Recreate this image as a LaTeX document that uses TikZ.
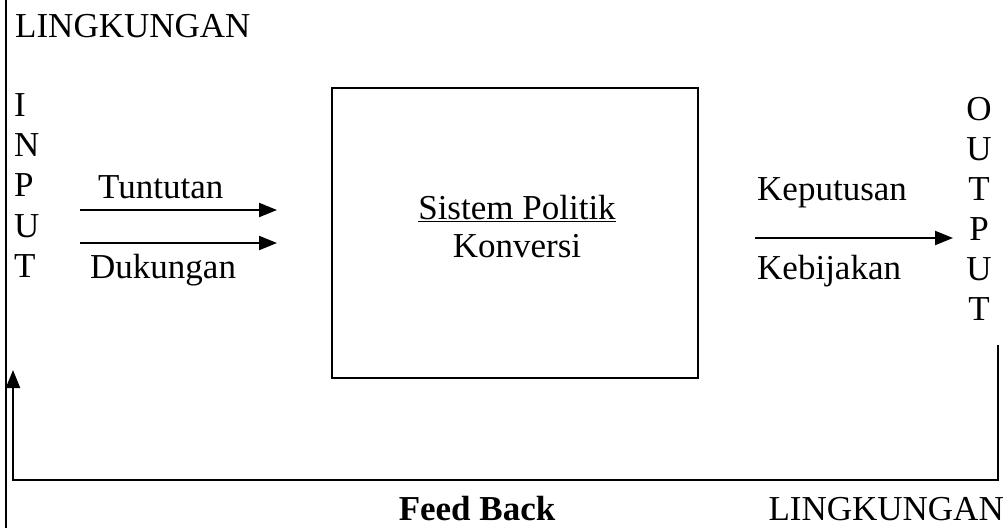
\documentclass[tikz,border=0pt]{standalone}
\usepackage{fontspec}
\setmainfont{Liberation Serif}
\usetikzlibrary{arrows.meta}
\begin{document}
\begin{tikzpicture}[x=1pt,y=-1pt,
  txt/.style={inner sep=0pt,font=\fontsize{35}{40}\selectfont},
  bold/.style={txt,font=\fontsize{35}{40}\selectfont\bfseries},
  ln/.style={line width=2.2pt},
  arr/.style={ln,-{Triangle[length=18pt,width=14pt]}}]
\useasboundingbox (0,0) rectangle (1008,528);
% frame line on the left
\coordinate (frT) at (6,0);
\coordinate (frB) at (6,528);
\draw[ln] (frT) -- (frB);
% environment labels
\node[txt,anchor=base west] (env1) at (15,37) {LINGKUNGAN};
\node[txt,anchor=base east] (env2) at (1004,520) {LINGKUNGAN};
% INPUT column
\node[txt,anchor=base west] (i1) at (14,116) {I};
\node[txt,anchor=base west] (i2) at (14,156) {N};
\node[txt,anchor=base west] (i3) at (14,196) {P};
\node[txt,anchor=base west] (i4) at (14,237) {U};
\node[txt,anchor=base west] (i5) at (14,277) {T};
% inputs
\node[txt,anchor=base west] (tunt) at (98,198) {Tuntutan};
\node[txt,anchor=base west] (duk) at (90,278) {Dukungan};
\coordinate (a1s) at (80,210);
\coordinate (a1e) at (277,210);
\coordinate (a2s) at (80,243);
\coordinate (a2e) at (277,243);
\draw[arr] (a1s) -- (a1e);
\draw[arr] (a2s) -- (a2e);
% system box
\node[draw,ln,minimum width=366pt,minimum height=290pt,inner sep=0pt] (sys) at (515,233) {};
\node[txt,anchor=base] (sp) at (517,219) {\underline{Sistem Politik}};
\node[txt,anchor=base] (konv) at (517,257) {Konversi};
% outputs
\node[txt,anchor=base west] (kep) at (757,200) {Keputusan};
\node[txt,anchor=base west] (keb) at (757,279) {Kebijakan};
\coordinate (a3s) at (755,238);
\coordinate (a3e) at (953,238);
\draw[arr] (a3s) -- (a3e);
% OUTPUT column
\node[txt,anchor=base] (o1) at (979,120) {O};
\node[txt,anchor=base] (o2) at (979,160) {U};
\node[txt,anchor=base] (o3) at (979,200) {T};
\node[txt,anchor=base] (o4) at (979,240) {P};
\node[txt,anchor=base] (o5) at (979,280) {U};
\node[txt,anchor=base] (o6) at (979,320) {T};
% feedback loop
\coordinate (fbTop) at (998,345);
\coordinate (fbR) at (998,480);
\coordinate (fbL) at (13,480);
\coordinate (fbTip) at (13,370);
\draw[ln,-{Triangle[length=18pt,width=14pt]}] (fbTop) -- (fbR) -- (fbL) -- (fbTip);
\node[bold,anchor=base] (fb) at (477,520) {Feed Back};
\end{tikzpicture}
\end{document}
